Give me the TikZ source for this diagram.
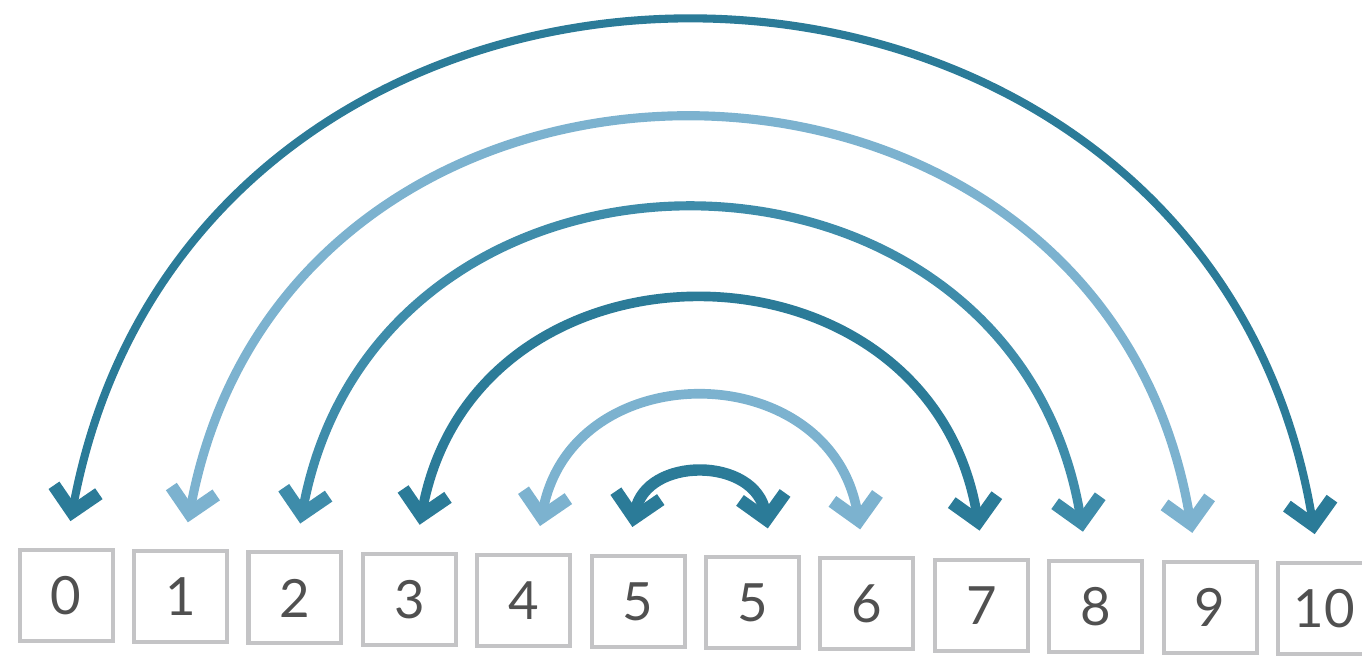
\documentclass[tikz,border=0pt]{standalone}
\usepackage{fontspec}
\setmainfont{Lato}
\usepackage{xcolor}
\usetikzlibrary{arrows.meta}

\definecolor{tealdark}{RGB}{43,123,152}
\definecolor{tealmid}{RGB}{62,140,170}
\definecolor{teallight}{RGB}{124,178,207}
\definecolor{boxgray}{RGB}{196,196,198}
\definecolor{numgray}{RGB}{80,80,80}

\tikzset{
  ponta/.tip={Straight Barb[sharp, length=13pt, width=26pt, line width=7.5pt]},
  caixa/.style={draw=boxgray, line width=2.3pt, minimum width=1.86cm,
    minimum height=1.82cm, inner sep=0pt, text=numgray,
    font=\fontsize{30}{31}\selectfont},
  arco/.style={out=80, in=100, looseness=1.41},
}

\begin{document}
\begin{tikzpicture}[x=0.02cm, y=0.02cm]
  \useasboundingbox (0,0) rectangle (1362,657);

  \begin{scope}[rotate around={-0.6:(681,328)}]
  % Caixas com os numeros
  \foreach \n [count=\i from 0] in {0,1,2,3,4,5,5,6,7,8,9,10}
    \node[caixa] (b\i) at (69+114.4*\i, 55) {\n};

  % Pontas das setas
  \foreach \i/\dx in {0/4,1/7,2/5,3/10,4/16,5/-6,6/15,7/-7,8/-2,9/-13,10/-18,11/-10}
    \coordinate (p\i) at ([shift={(\dx,27)}]b\i.north);

  % Arcos entre os pares
  \draw[{ponta}-{ponta}, tealdark, line width=4.6pt] (p0) to[arco] (p11);
  \draw[{ponta}-{ponta}, teallight, line width=5.2pt] (p1) to[arco] (p10);
  \draw[{ponta}-{ponta}, tealmid, line width=5.2pt] (p2) to[arco] (p9);
  \draw[{ponta}-{ponta}, tealdark, line width=5.5pt] (p3) to[arco] (p8);
  \draw[{ponta}-{ponta}, teallight, line width=5.5pt] (p4) to[arco] (p7);
  \draw[{ponta}-{ponta}, tealdark, line width=6.5pt] (p5) to[arco, looseness=1.38] (p6);
  \end{scope}
\end{tikzpicture}
\end{document}
